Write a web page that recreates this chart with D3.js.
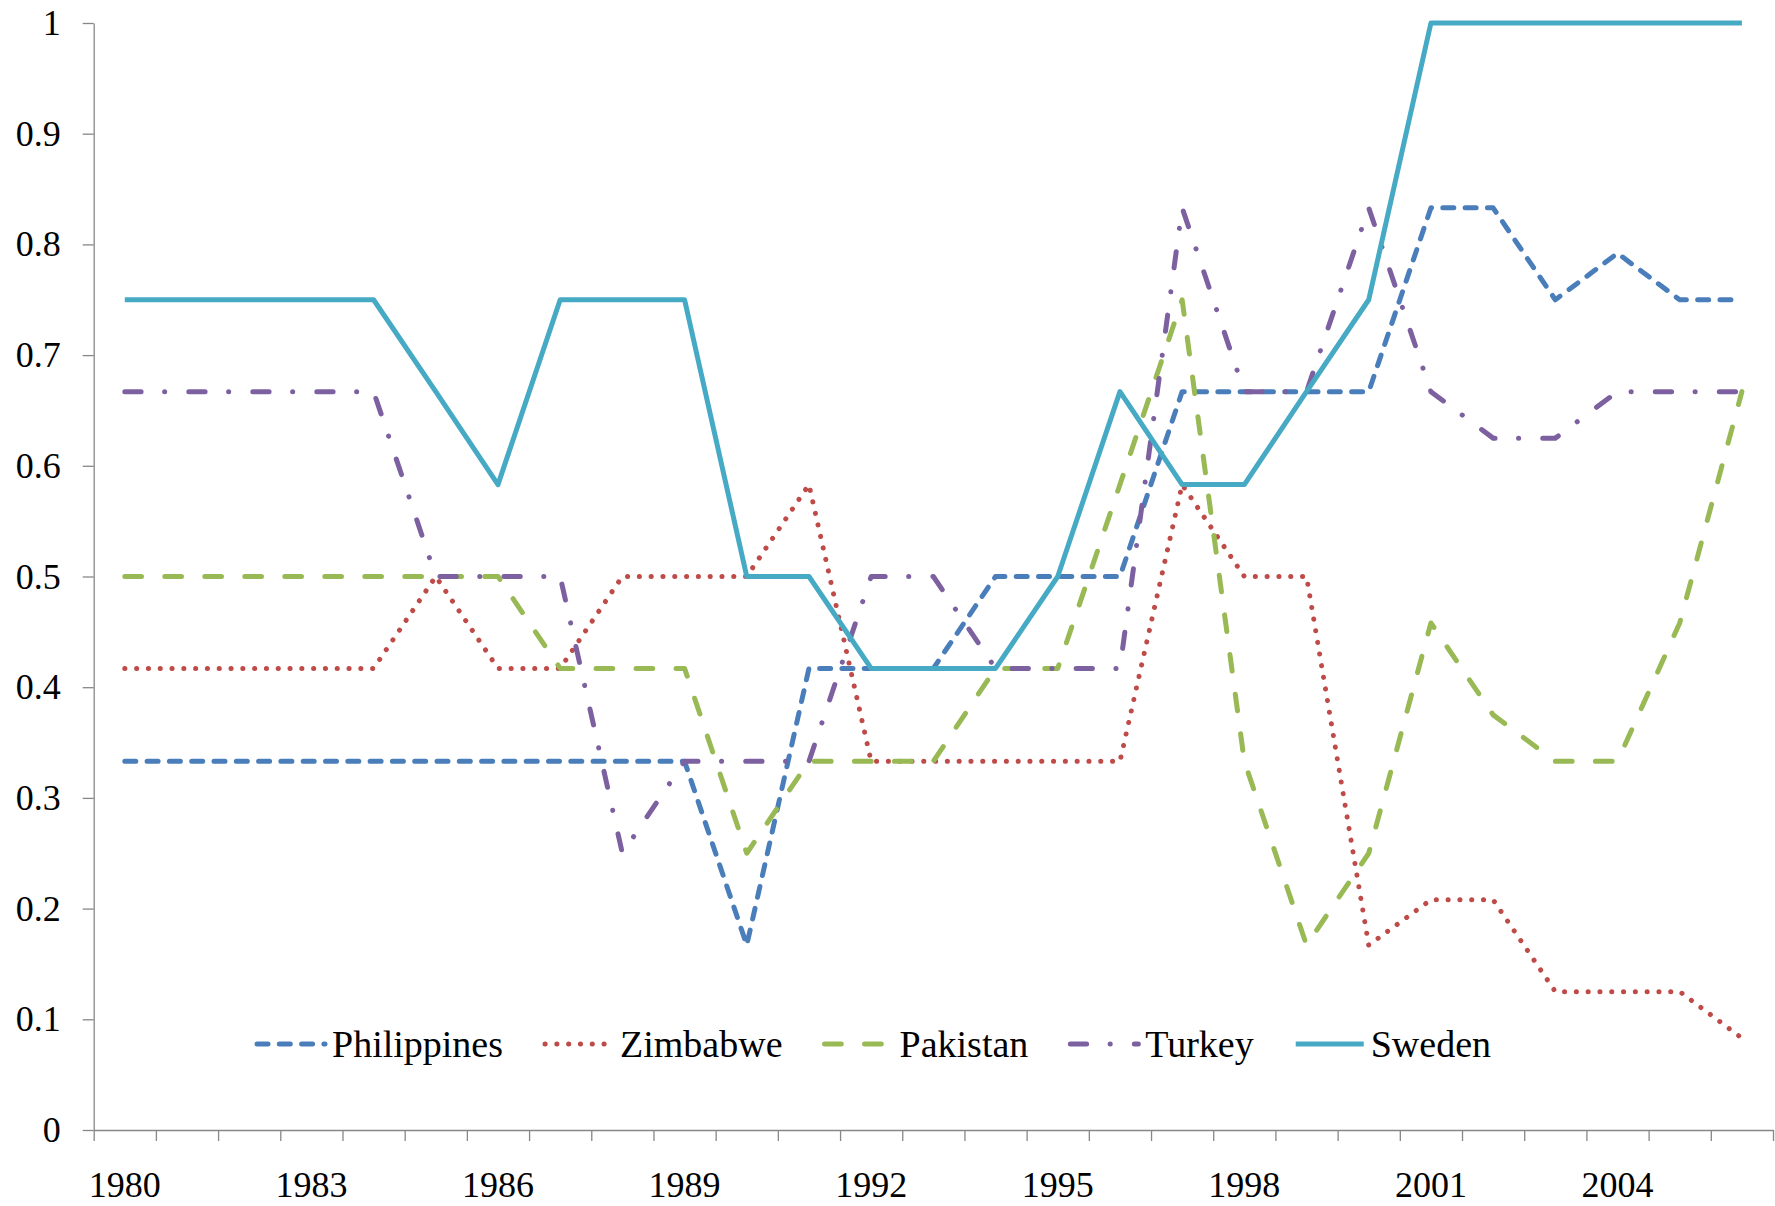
<!DOCTYPE html>
<html>
<head>
<meta charset="utf-8">
<script src="https://cdn.jsdelivr.net/npm/d3@7"></script>
<style>
  body { margin: 0; background: #fff; }
  text { font-family: "Liberation Serif", "Times New Roman", serif; fill: #000; }
</style>
</head>
<body>
<div id="chart"></div>
<script>
var years = [1980, 1981, 1982, 1983, 1984, 1985, 1986, 1987, 1988, 1989,
  1990, 1991, 1992, 1993, 1994, 1995, 1996, 1997, 1998, 1999,
  2000, 2001, 2002, 2003, 2004, 2005, 2006]

var philippines = [0.333, 0.333, 0.333, 0.333, 0.333, 0.333, 0.333, 0.333, 0.333, 0.333,
  0.167, 0.417, 0.417, 0.417, 0.5, 0.5, 0.5, 0.667, 0.667, 0.667,
  0.667, 0.833, 0.833, 0.75, 0.792, 0.75, 0.75]
var zimbabwe = [0.417, 0.417, 0.417, 0.417, 0.417, 0.5, 0.417, 0.417, 0.5, 0.5,
  0.5, 0.583, 0.333, 0.333, 0.333, 0.333, 0.333, 0.583, 0.5, 0.5,
  0.167, 0.208, 0.208, 0.125, 0.125, 0.125, 0.083]
var pakistan = [0.5, 0.5, 0.5, 0.5, 0.5, 0.5, 0.5, 0.417, 0.417, 0.417,
  0.25, 0.333, 0.333, 0.333, 0.417, 0.417, 0.583, 0.75, 0.333, 0.167,
  0.25, 0.458, 0.375, 0.333, 0.333, 0.458, 0.667]
var turkey = [0.667, 0.667, 0.667, 0.667, 0.667, 0.5, 0.5, 0.5, 0.25, 0.333,
  0.333, 0.333, 0.5, 0.5, 0.417, 0.417, 0.417, 0.833, 0.667, 0.667,
  0.833, 0.667, 0.625, 0.625, 0.667, 0.667, 0.667]
var sweden = [0.75, 0.75, 0.75, 0.75, 0.75, 0.667, 0.583, 0.75, 0.75, 0.75,
  0.5, 0.5, 0.417, 0.417, 0.417, 0.5, 0.667, 0.583, 0.583, 0.667,
  0.75, 1, 1, 1, 1, 1, 1]

var yTicks = [0, 0.1, 0.2, 0.3, 0.4, 0.5, 0.6, 0.7, 0.8, 0.9, 1]

var series = [
  {name: "Philippines", values: philippines, color: "#4a7ebb", dash: "11,11.3"},
  {name: "Zimbabwe", values: zimbabwe, color: "#be4b48", dash: "0.1,11.7"},
  {name: "Pakistan", values: pakistan, color: "#98b954", dash: "16.7,23.3"},
  {name: "Turkey", values: turkey, color: "#7d60a0", dash: "16.3,23.5,0.1,24.1"},
  {name: "Sweden", values: sweden, color: "#46aac5", dash: null}
]

var W = 1775, H = 1206
var margin = {top: 23, right: 2, bottom: 76, left: 93.7}
var width = W - margin.left - margin.right,
  height = H - margin.top - margin.bottom

var svg = d3.select("#chart").append("svg")
    .attr("width", W)
    .attr("height", H)
  .append("g")
    .attr("transform", "translate(" + margin.left + "," + margin.top + ")")

var x = d3.scaleBand()
    .domain(years)
    .range([0, width])

var y = d3.scaleLinear()
    .domain([0, 1])
    .range([height, 0])

var axisColor = "#878787"

// y axis
var yAxis = svg.append("g")
    .call(d3.axisLeft(y)
      .tickValues(yTicks)
      .tickFormat(function(d) { return String(+d.toFixed(1)) })
      .tickSize(11)
      .tickSizeOuter(0)
      .tickPadding(22))
yAxis.selectAll("text").style("font-size", "36px")

// x axis: ticks sit on the category edges, labels every third year
var edges = d3.scaleLinear().domain([0, years.length]).range([0, width])
var xEdges = svg.append("g")
    .attr("transform", "translate(0," + height + ")")
    .call(d3.axisBottom(edges)
      .tickValues(d3.range(years.length + 1))
      .tickFormat("")
      .tickSize(11)
      .tickSizeOuter(0))

var xLabels = svg.append("g")
    .attr("transform", "translate(0," + height + ")")
    .call(d3.axisBottom(x)
      .tickSize(0)
      .tickPadding(41)
      .tickFormat(function(d, i) { return i % 3 == 0 ? d : "" }))
xLabels.select(".domain").remove()
xLabels.selectAll("text").style("font-size", "36px")

svg.selectAll(".domain, .tick line")
    .attr("stroke", axisColor)
    .attr("stroke-width", 1.3)

var line = d3.line()
  .x(function(d, i) { return x(years[i]) + x.bandwidth() / 2 })
  .y(function(d) { return y(d) })

svg.append("g")
  .selectAll("path")
    .data(series)
  .enter().append("path")
    .attr("d", function(d) { return line(d.values) })
    .attr("fill", "none")
    .attr("stroke", function(d) { return d.color })
    .attr("stroke-width", 5)
    .attr("stroke-linecap", function(d) { return d.dash ? "round" : "butt" })
    .attr("stroke-linejoin", "round")
    .attr("stroke-dasharray", function(d) { return d.dash })

// legend
var legend = svg.append("g")
    .attr("transform", "translate(0," + (1044 - margin.top) + ")")

var lx = 255 - margin.left
series.forEach(function(s) {
  var item = legend.append("g").attr("transform", "translate(" + lx + ",0)")
  item.append("line")
    .attr("x1", 2).attr("x2", 70)
    .attr("y1", 0).attr("y2", 0)
    .attr("stroke", s.color)
    .attr("stroke-width", 5)
    .attr("stroke-linecap", s.dash ? "round" : "butt")
    .attr("stroke-dasharray", s.dash)
  var t = item.append("text")
    .attr("x", 77)
    .attr("y", 13.3)
    .style("font-size", "38px")
    .text(s.name)
  lx += 77 + t.node().getComputedTextLength() + 40
})
</script>
</body>
</html>
